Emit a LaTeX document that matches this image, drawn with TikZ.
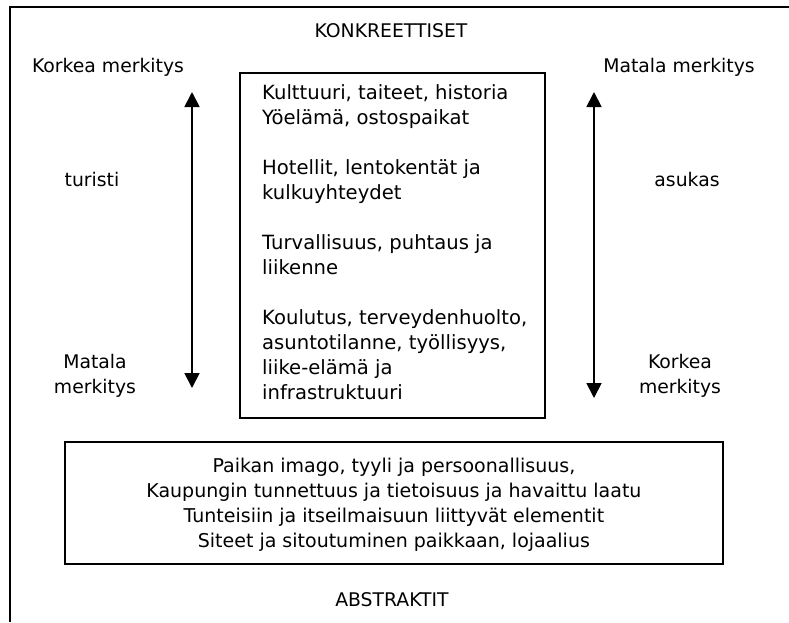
\documentclass[tikz,border=0pt]{standalone}
\usepackage{fontspec}
\setmainfont{DejaVu Sans}
\usetikzlibrary{arrows.meta}

\tikzset{
  frame/.style={line width=1.8pt},
  boxline/.style={draw, line width=1.8pt},
  lbl/.style={inner sep=0pt, font=\fontsize{18.8}{25}\selectfont},
  boxtext/.style={inner sep=0pt, font=\fontsize{19.6}{25}\selectfont},
  abstext/.style={inner sep=0pt, font=\fontsize{19}{25}\selectfont},
  scalearrow/.style={line width=1.8pt, {Triangle[width=15pt,length=15pt]}-{Triangle[width=15pt,length=15pt]}},
}

\begin{document}
\begin{tikzpicture}[x=1pt, y=-1pt]
  \useasboundingbox (0,0) rectangle (789,622);

  % open outer frame: top and left sides
  \draw[frame] (789,7) -- (10,7) -- (10,622);

  % headings
  \node[lbl] (konk) at (391,31) {KONKREETTISET};
  \node[lbl] (abst) at (392,600) {ABSTRAKTIT};

  % left scale: tourist
  \node[lbl] (lhigh) at (108,67) {Korkea merkitys};
  \node[lbl] (tour) at (92,179) {turisti};
  \node[lbl, align=center] (llow) at (95,376) {Matala\\merkitys};
  \coordinate (latop) at (192,92);
  \coordinate (labot) at (192,388);
  \draw[scalearrow] (latop) -- (labot);

  % right scale: resident
  \node[lbl] (rlow) at (679,67) {Matala merkitys};
  \node[lbl] (res) at (687,179) {asukas};
  \node[lbl, align=center] (rhigh) at (680,376) {Korkea\\merkitys};
  \coordinate (ratop) at (594,92);
  \coordinate (rabot) at (594,398);
  \draw[scalearrow] (ratop) -- (rabot);

  % concrete attributes
  \node[boxline, minimum width=305pt, minimum height=345pt, anchor=north west] (conc) at (239,72) {};
  \node[boxtext, align=left, anchor=north west] (conctext) at (262,84)
    {Kulttuuri, taiteet, historia\\
     Yöelämä, ostospaikat\\[25pt]
     Hotellit, lentokentät ja\\
     kulkuyhteydet\\[25pt]
     Turvallisuus, puhtaus ja\\
     liikenne\\[25pt]
     Koulutus, terveydenhuolto,\\
     asuntotilanne, työllisyys,\\
     liike-elämä ja\\
     infrastruktuuri};

  % abstract attributes
  \node[boxline, minimum width=658pt, minimum height=122pt, anchor=north west] (abox) at (64,441) {};
  \node[abstext, align=center] (abtext) at ([yshift=-1.5pt]abox.center)
    {Paikan imago, tyyli ja persoonallisuus,\\
     Kaupungin tunnettuus ja tietoisuus ja havaittu laatu\\
     Tunteisiin ja itseilmaisuun liittyvät elementit\\
     Siteet ja sitoutuminen paikkaan, lojaalius};
\end{tikzpicture}
\end{document}
